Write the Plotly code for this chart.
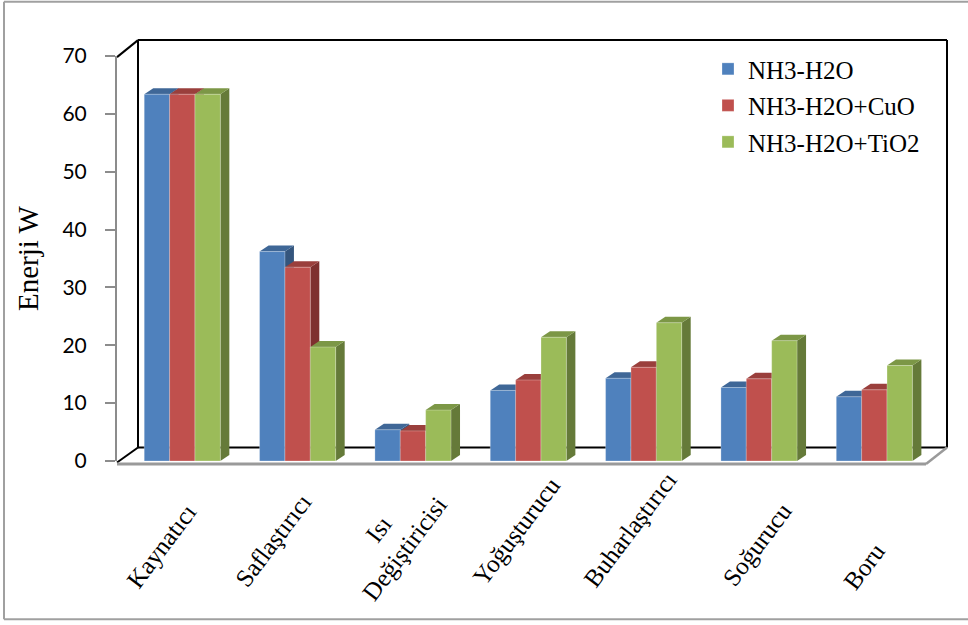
import plotly.graph_objects as go

# ---- data -------------------------------------------------------------
categories = ["Kaynatıcı", "Saflaştırıcı", "Isı<br>Değiştiricisi", "Yoğuşturucu",
              "Buharlaştırıcı", "Soğurucu", "Boru"]
series_names = ["NH3-H2O", "NH3-H2O+CuO", "NH3-H2O+TiO2"]
nh3_h2o = [63.4, 36.2, 5.4, 12.2, 14.3, 12.7, 11.1]
nh3_h2o_cuo = [63.4, 33.5, 5.2, 14.0, 16.2, 14.2, 12.3]
nh3_h2o_tio2 = [63.4, 19.7, 8.8, 21.4, 23.9, 20.8, 16.5]
y_ticks = [0, 10, 20, 30, 40, 50, 60, 70]

# ---- styling ------------------------------------------------------------
W, H = 968, 625
L, R, T, B = 117, 36, 55.9, 163.5
PW, PH = W - L - R, H - T - B

front_colors = ["#4F81BD", "#C0504D", "#9BBB59"]
top_colors = ["#3F6797", "#9A3F3C", "#7C9746"]
side_colors = ["#34557D", "#7E302F", "#657A39"]

bar_w = 0.22          # width of one bar in category units
depth_dx = 0.078      # pseudo-3D depth, x (category units)
depth_dy = 1.04       # pseudo-3D depth, y (value units)

serif = "Liberation Serif, Times New Roman, serif"
sans = "Lato, Calibri, sans-serif"


def px(x):
    return (x - L) / PW


def py(y):
    return (H - B - y) / PH


series = [nh3_h2o, nh3_h2o_cuo, nh3_h2o_tio2]
xs = list(range(len(categories)))

fig = go.Figure()
shapes = []

for k, (name, vals) in enumerate(zip(series_names, series)):
    off = -1.5 * bar_w + k * bar_w
    fig.add_trace(go.Bar(
        x=xs, y=vals, name=name, width=bar_w, offset=off,
        marker=dict(color=front_colors[k], line=dict(width=0.6, color="rgba(255,255,255,0.45)")),
        legendgroup=name,
    ))
    # side and top faces, placed under the bar fronts
    for i, v in zip(xs, vals):
        xl = i + off
        xr = xl + bar_w
        side = (f"M {xr},0 L {xr + depth_dx},{depth_dy} L {xr + depth_dx},{v + depth_dy} "
                f"L {xr},{v} Z")
        top = (f"M {xl},{v} L {xl + depth_dx},{v + depth_dy} L {xr + depth_dx},{v + depth_dy} "
               f"L {xr},{v} Z")
        shapes.append(dict(type="path", path=side, xref="x", yref="y", layer="below",
                           fillcolor=side_colors[k], line=dict(width=0)))
        shapes.append(dict(type="path", path=top, xref="x", yref="y", layer="below",
                           fillcolor=top_colors[k], line=dict(width=0)))


def seg(x0, y0, x1, y1, color="black", width=2):
    shapes.append(dict(type="line", xref="paper", yref="paper",
                       x0=px(x0), y0=py(y0), x1=px(x1), y1=py(y1),
                       line=dict(color=color, width=width), layer="below"))


# back wall and floor frame
seg(138, 40, 947, 40)
seg(947, 40, 947, 448)
seg(138, 40, 138, 448)
seg(138, 448, 947, 448)
seg(117, 57, 138, 40)
seg(117, 463, 138, 448)
seg(117, 464.5, 926, 464.5, color="#9A9A9A", width=3)
seg(926, 464.5, 947, 448, color="#9A9A9A", width=2.5)

# outer chart border
for a in [(4, 1.5, 968, 1.5), (4, 1.5, 4, 620), (4, 620, 968, 620)]:
    shapes.append(dict(type="line", xref="paper", yref="paper",
                       x0=px(a[0]), y0=py(a[1]), x1=px(a[2]), y1=py(a[3]),
                       line=dict(color="#A0A0A0", width=2)))

# category labels
label_centers = [(161, 547), (273, 541), (392, 540), (516, 532),
                 (630, 530), (757, 545), (864, 567)]
annotations = []
for text, (cx, cy) in zip(categories, label_centers):
    annotations.append(dict(text=text, x=px(cx), y=py(cy), xref="paper", yref="paper",
                            xanchor="center", yanchor="middle", showarrow=False,
                            textangle=-53, align="center",
                            font=dict(family=serif, size=25, color="black")))

fig.update_layout(
    width=W, height=H,
    margin=dict(l=L, r=R, t=T, b=B),
    paper_bgcolor="white", plot_bgcolor="rgba(0,0,0,0)",
    barmode="overlay",
    shapes=shapes,
    annotations=annotations,
    showlegend=True,
    legend=dict(x=px(708), y=py(46), xanchor="left", yanchor="top",
                font=dict(family=serif, size=25, color="black"),
                bgcolor="rgba(0,0,0,0)", traceorder="grouped", tracegroupgap=1),
    xaxis=dict(range=[-0.566, 6.5], showticklabels=False, showline=False,
               showgrid=False, zeroline=False, ticks=""),
    yaxis=dict(range=[0, 70], tickvals=y_ticks, showgrid=False, zeroline=False,
               showline=True, linecolor="#8C8C8C", linewidth=2,
               ticks="outside", ticklen=10, tickcolor="#8C8C8C", tickwidth=1.5,
               ticklabelstandoff=14,
               tickfont=dict(family=sans, size=21, color="black"),
               title=dict(text="Enerji W", standoff=15,
                          font=dict(family=serif, size=29, color="black"))),
)

fig.write_html("out.html")
